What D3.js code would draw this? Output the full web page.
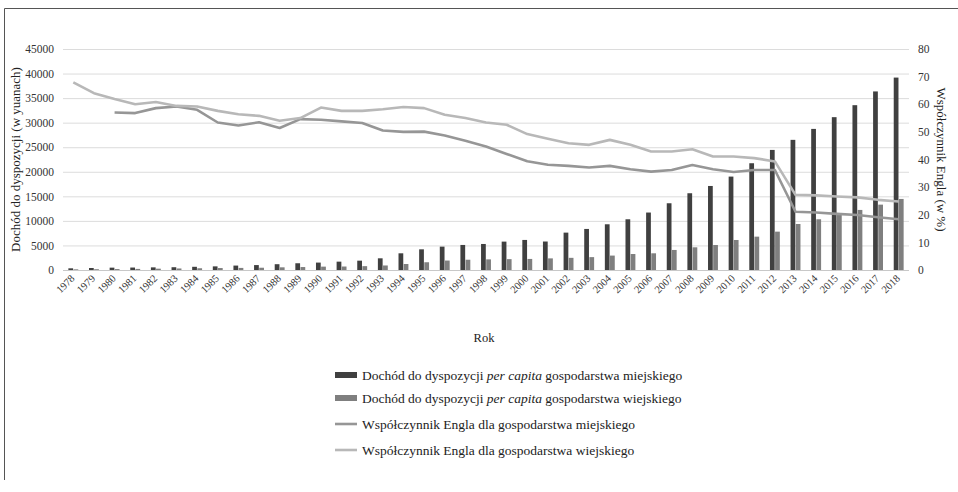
<!DOCTYPE html>
<html>
<head>
<meta charset="utf-8">
<script src="https://cdn.jsdelivr.net/npm/d3@7"></script>
<style>
  body { margin: 0; background: #fff; }
  svg text { font-family: "Liberation Serif", "DejaVu Serif", serif !important; }
</style>
</head>
<body>
<svg id="svg" width="958" height="492"></svg>
<script>
// lata 1978-2018
let years = d3.range(1978, 2019).map(String);

// dochód do dyspozycji per capita (yuany)
let urbanIncome = [343, 405, 478, 500, 535, 565, 652, 739, 901, 1002, 1180, 1374, 1510, 1701,
  1900, 2380, 3400, 4210, 4760, 5100, 5300, 5780, 6120, 5800, 7610, 8360, 9310, 10330,
  11700, 13590, 15630, 17110, 19020, 21740, 24450, 26500, 28730, 31120, 33560, 36360, 39180];
let ruralIncome = [134, 160, 191, 223, 270, 310, 355, 398, 424, 463, 545, 602, 686, 709,
  784, 922, 1221, 1578, 1926, 2090, 2162, 2210, 2253, 2366, 2476, 2622, 2936, 3255,
  3400, 4080, 4620, 5090, 6110, 6790, 7810, 9370, 10330, 11200, 12230, 13310, 14470];

// współczynnik Engla (%) - miasto od 1980
let urbanEngel = [null, null, 57.0, 56.8, 58.6, 59.2, 58.0, 53.4, 52.3, 53.5, 51.4, 54.6, 54.4, 53.8,
  53.2, 50.5, 50.0, 50.1, 48.7, 46.8, 44.7, 42.0, 39.4, 38.1, 37.7, 37.1, 37.7, 36.5,
  35.6, 36.2, 38.0, 36.5, 35.5, 36.2, 36.2, 21.1, 20.8, 20.3, 19.9, 19.1, 18.4];
let ruralEngel = [67.9, 64.0, 61.9, 60.0, 60.8, 59.4, 59.2, 57.6, 56.4, 55.8, 54.0, 55.0, 58.8, 57.6,
  57.6, 58.2, 59.0, 58.6, 56.2, 55.0, 53.4, 52.6, 49.2, 47.5, 45.9, 45.3, 47.1, 45.3,
  42.9, 42.9, 43.7, 41.1, 41.1, 40.5, 39.3, 27.2, 27.0, 26.6, 26.3, 25.4, 24.8];

let leftTicks = d3.range(0, 45001, 5000);
let rightTicks = d3.range(0, 81, 10);

let legendItems = [
  { type: "bar", color: "#404040", parts: ["Dochód do dyspozycji ", "per capita", " gospodarstwa miejskiego"] },
  { type: "bar", color: "#7f7f7f", parts: ["Dochód do dyspozycji ", "per capita", " gospodarstwa wiejskiego"] },
  { type: "line", color: "#969696", parts: ["Współczynnik Engla dla gospodarstwa miejskiego"] },
  { type: "line", color: "#b8b8b8", parts: ["Współczynnik Engla dla gospodarstwa wiejskiego"] }
];

const drawChart = function() {
  let svg = d3.select("#svg");
  let margin = { left: 63, right: 49, top: 49, bottom: 222 };
  let width = 958 - margin.left - margin.right;
  let height = 492 - margin.top - margin.bottom;

  // ramka
  svg.append("path")
    .attr("d", "M4.5,480 V8.5 H958")
    .attr("fill", "none")
    .attr("stroke", "#555")
    .attr("stroke-width", 1);

  let g = svg.append("g")
    .attr("transform", "translate(" + margin.left + "," + margin.top + ")");

  let x = d3.scaleBand().domain(years).range([0, width]).paddingInner(0.52).paddingOuter(0.26);
  let x1 = d3.scaleBand().domain(["u", "r"]).range([0, x.bandwidth()]).paddingInner(0.08);
  let y = d3.scaleLinear().domain([0, 45000]).range([height, 0]);
  let y2 = d3.scaleLinear().domain([0, 80]).range([height, 0]);
  let cx = function(d) { return x(d) + x.bandwidth() / 2; };

  // siatka
  g.append("g")
    .selectAll("line")
    .data(leftTicks)
    .join("line")
    .attr("x1", 0).attr("x2", width)
    .attr("y1", d => y(d) + 0.5).attr("y2", d => y(d) + 0.5)
    .attr("stroke", d => d === 0 ? "#c8c8c8" : "#dcdcdc")
    .attr("stroke-width", 1);

  // oś lewa
  g.append("g")
    .call(d3.axisLeft(y).tickValues(leftTicks).tickFormat(d3.format("d")).tickSize(0).tickPadding(9))
    .call(a => a.select(".domain").remove())
    .selectAll("text")
    .attr("font-size", 11.5)
    .attr("fill", "#333");

  // oś prawa
  g.append("g")
    .attr("transform", "translate(" + width + ",0)")
    .call(d3.axisRight(y2).tickValues(rightTicks).tickFormat(d3.format("d")).tickSize(0).tickPadding(9))
    .call(a => a.select(".domain").remove())
    .selectAll("text")
    .attr("font-size", 11.5)
    .attr("fill", "#333");

  // oś X
  g.append("g")
    .selectAll("text")
    .data(years)
    .join("text")
    .attr("transform", d => "translate(" + (cx(d) + 2) + "," + (height + 9) + ") rotate(-45)")
    .attr("text-anchor", "end")
    .attr("font-size", 10.5)
    .attr("fill", "#333")
    .text(d => d);

  // słupki
  let groups = g.append("g")
    .selectAll("g")
    .data(years)
    .join("g")
    .attr("transform", d => "translate(" + x(d) + ",0)");

  groups.append("rect")
    .attr("x", x1("u"))
    .attr("width", x1.bandwidth())
    .attr("y", (d, i) => y(urbanIncome[i]))
    .attr("height", (d, i) => height - y(urbanIncome[i]))
    .attr("fill", "#404040");

  groups.append("rect")
    .attr("x", x1("r"))
    .attr("width", x1.bandwidth())
    .attr("y", (d, i) => y(ruralIncome[i]))
    .attr("height", (d, i) => height - y(ruralIncome[i]))
    .attr("fill", "#7f7f7f");

  // linie
  let line = d3.line()
    .defined(d => d[1] !== null)
    .x(d => cx(d[0]))
    .y(d => y2(d[1]));

  g.append("path")
    .datum(years.map((d, i) => [d, urbanEngel[i]]))
    .attr("fill", "none")
    .attr("stroke", "#969696")
    .attr("stroke-width", 2.6)
    .attr("stroke-linejoin", "round")
    .attr("d", line);

  g.append("path")
    .datum(years.map((d, i) => [d, ruralEngel[i]]))
    .attr("fill", "none")
    .attr("stroke", "#b8b8b8")
    .attr("stroke-width", 2.6)
    .attr("stroke-linejoin", "round")
    .attr("d", line);

  // tytuły osi
  svg.append("text")
    .attr("transform", "translate(20," + (margin.top + height / 2) + ") rotate(-90)")
    .attr("text-anchor", "middle")
    .attr("font-size", 13)
    .attr("fill", "#222")
    .text("Dochód do dyspozycji (w yuanach)");

  svg.append("text")
    .attr("transform", "translate(937," + (margin.top + height / 2) + ") rotate(90)")
    .attr("text-anchor", "middle")
    .attr("font-size", 13)
    .attr("fill", "#222")
    .text("Współczynnik Engla (w %)");

  svg.append("text")
    .attr("x", 484)
    .attr("y", 342)
    .attr("text-anchor", "middle")
    .attr("font-size", 12.5)
    .attr("fill", "#222")
    .text("Rok");

  // legenda
  let legendY = [375, 398, 424, 450];
  let lg = svg.append("g")
    .selectAll("g")
    .data(legendItems)
    .join("g")
    .attr("transform", (d, i) => "translate(335," + legendY[i] + ")");

  lg.filter(d => d.type === "bar").append("rect")
    .attr("x", 0).attr("y", -3).attr("width", 22).attr("height", 6)
    .attr("fill", d => d.color);

  lg.filter(d => d.type === "line").append("line")
    .attr("x1", 0).attr("x2", 22).attr("y1", 0).attr("y2", 0)
    .attr("stroke", d => d.color)
    .attr("stroke-width", 2.6);

  let lt = lg.append("text")
    .attr("x", 27)
    .attr("y", 4.5)
    .attr("font-size", 13.5)
    .attr("fill", "#222");

  lt.selectAll("tspan")
    .data(d => d.parts)
    .join("tspan")
    .attr("font-style", (d, i) => i === 1 ? "italic" : null)
    .text(d => d);
}

drawChart();
</script>
</body>
</html>
